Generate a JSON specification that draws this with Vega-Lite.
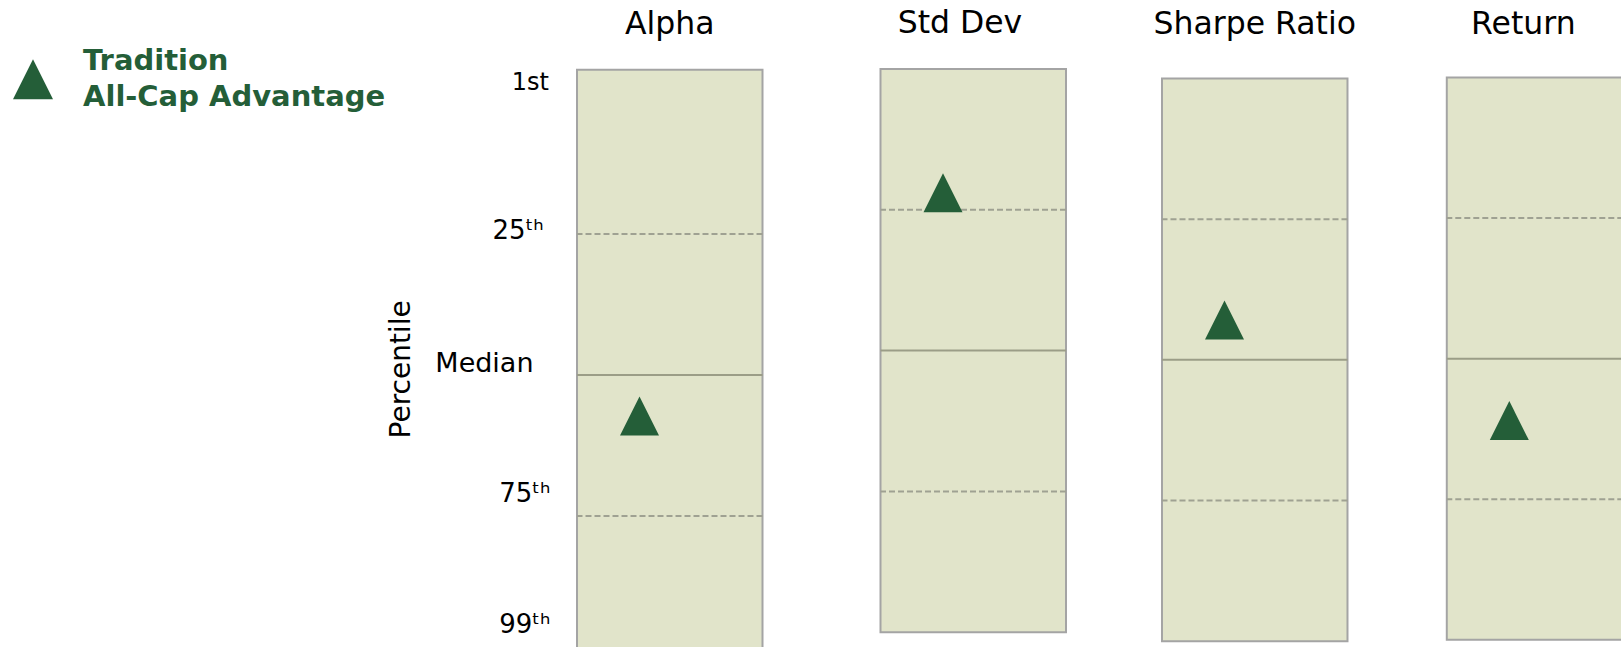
{
  "$schema": "https://vega.github.io/schema/vega-lite/v6.json",
  "background": "white",
  "padding": {"left": 13, "top": 7.9, "right": 0, "bottom": 0},
  "config": {
    "font": "DejaVu Sans",
    "view": {"stroke": null},
    "style": {"guide-label": {"lineHeight": 35.5}},
    "title": {"font": "DejaVu Sans", "fontSize": 31.5, "fontWeight": "normal", "color": "#000000", "anchor": "middle", "frame": "group", "baseline": "alphabetic", "offset": 28.3}
  },
  "datasets": {
    "boxes": [
      {"metric": "Alpha", "lo": -4.1, "hi": 100},
      {"metric": "Std Dev", "lo": 0, "hi": 100},
      {"metric": "Sharpe Ratio", "lo": 0, "hi": 100},
      {"metric": "Return", "lo": 0, "hi": 100}
    ],
    "lines": [
      {"metric": "Alpha", "pct": 25, "kind": "quartile"},
      {"metric": "Alpha", "pct": 50, "kind": "median"},
      {"metric": "Alpha", "pct": 75, "kind": "quartile"},
      {"metric": "Std Dev", "pct": 25, "kind": "quartile"},
      {"metric": "Std Dev", "pct": 50, "kind": "median"},
      {"metric": "Std Dev", "pct": 75, "kind": "quartile"},
      {"metric": "Sharpe Ratio", "pct": 25, "kind": "quartile"},
      {"metric": "Sharpe Ratio", "pct": 50, "kind": "median"},
      {"metric": "Sharpe Ratio", "pct": 75, "kind": "quartile"},
      {"metric": "Return", "pct": 25, "kind": "quartile"},
      {"metric": "Return", "pct": 50, "kind": "median"},
      {"metric": "Return", "pct": 75, "kind": "quartile"}
    ],
    "scores": [
      {"metric": "Alpha", "series": "Tradition All-Cap Advantage", "value": 57.3},
      {"metric": "Std Dev", "series": "Tradition All-Cap Advantage", "value": 22.0},
      {"metric": "Sharpe Ratio", "series": "Tradition All-Cap Advantage", "value": 42.9},
      {"metric": "Return", "series": "Tradition All-Cap Advantage", "value": 61.0}
    ]
  },
  "spacing": 117.5,
  "bounds": "flush",
  "hconcat": [
    {
      "title": {"text": "Alpha"},
      "width": 185.5,
      "height": 600,
      "layer": [
        {
          "data": {"name": "boxes"},
          "transform": [{"filter": "datum.metric == 'Alpha'"}],
          "mark": {"type": "rect", "fill": "#E1E4CA", "stroke": "#A4A4A4", "strokeWidth": 2},
          "encoding": {
            "y": {
              "field": "lo", "type": "quantitative",
              "scale": {"domain": [-4.26, 102.13], "reverse": true, "nice": false, "zero": false},
              "axis": {
                "values": [1, 25, 50, 75, 99],
                "labelExpr": "datum.value == 1 ? '1st' : datum.value == 50 ? 'Median' : datum.value + '\u1d57\u02b0'",
                "ticks": false, "domain": false, "grid": false,
                "labelOverlap": false, "labelFlush": false,
                "labelFont": "DejaVu Sans", "labelColor": "#000000",
                "labelBaseline": "middle", "labelAlign": "right",
                "labelFontSize": {"condition": [{"test": "datum.value == 1", "value": 24}, {"test": "datum.value == 50", "value": 27}], "value": 26},
                "labelOffset": {"condition": [{"test": "datum.value == 1", "value": -16.4}, {"test": "datum.value == 25", "value": -3.3}, {"test": "datum.value == 50", "value": -11.3}, {"test": "datum.value == 75", "value": -22.6}], "value": -26.4},
                "labelPadding": {"condition": [{"test": "datum.value == 50", "value": 44}, {"test": "datum.value == 25", "value": 33.7}, {"test": "datum.value == 1", "value": 28.7}], "value": 27},
                "title": "Percentile", "titleFont": "DejaVu Sans", "titleFontSize": 28, "titleFontWeight": "normal", "titleColor": "#000000", "titlePadding": 19
              }
            },
            "y2": {"field": "hi"}
          }
        },
        {
          "data": {"name": "lines"},
          "transform": [{"filter": "datum.metric == 'Alpha'"}],
          "mark": {"type": "rule"},
          "encoding": {
            "y": {"field": "pct", "type": "quantitative"},
            "color": {"condition": {"test": "datum.kind == 'median'", "value": "#9B9D87"}, "value": "#9FA192"},
            "strokeWidth": {"condition": {"test": "datum.kind == 'median'", "value": 2}, "value": 2},
            "strokeDash": {"condition": {"test": "datum.kind == 'median'", "value": [1, 0]}, "value": [6, 3]}
          }
        },
        {
          "data": {"name": "scores"},
          "transform": [{"filter": "datum.metric == 'Alpha'"}],
          "mark": {"type": "point", "filled": true, "fill": "#245E38", "size": 1521, "opacity": 1, "strokeWidth": 0},
          "encoding": {
            "x": {"field": "series", "type": "nominal", "scale": {"type": "point", "align": 0.337}, "axis": null},
            "y": {"field": "value", "type": "quantitative"},
            "shape": {
              "field": "series", "type": "nominal",
              "scale": {"range": ["M0,-1L1,1L-1,1Z"]},
              "legend": {
                "orient": "none", "legendX": -564, "legendY": -9.7, "title": null, "padding": 0,
                "symbolSize": 1600, "symbolFillColor": "#245E38", "symbolStrokeWidth": 0, "symbolOpacity": 1,
                "labelFont": "DejaVu Sans", "labelFontWeight": "bold", "labelFontSize": 29, "labelColor": "#245E38",
                "labelOffset": 30, "labelLimit": 600, "labelBaseline": "line-bottom",
                "labelExpr": "[slice(datum.label, 0, 9), slice(datum.label, 10)]"
              }
            }
          }
        }
      ]
    },
    {
      "spacing": 95.5,
      "bounds": "flush",
      "hconcat": [
        {
          "title": {"text": "Std Dev", "dx": -13.3},
          "width": 185.5,
          "height": 600,
          "layer": [
            {
              "data": {"name": "boxes"},
              "transform": [{"filter": "datum.metric == 'Std Dev'"}],
              "mark": {"type": "rect", "fill": "#E1E4CA", "stroke": "#A4A4A4", "strokeWidth": 2},
              "encoding": {
                "y": {"field": "lo", "type": "quantitative", "scale": {"domain": [0, 106.5], "reverse": true, "nice": false, "zero": false}, "axis": null},
                "y2": {"field": "hi"}
              }
            },
            {
              "data": {"name": "lines"},
              "transform": [{"filter": "datum.metric == 'Std Dev'"}],
              "mark": {"type": "rule"},
              "encoding": {
                "y": {"field": "pct", "type": "quantitative", "axis": null},
                "color": {"condition": {"test": "datum.kind == 'median'", "value": "#9B9D87"}, "value": "#9FA192"},
                "strokeWidth": {"condition": {"test": "datum.kind == 'median'", "value": 2}, "value": 2},
                "strokeDash": {"condition": {"test": "datum.kind == 'median'", "value": [1, 0]}, "value": [6, 3]}
              }
            },
            {
              "data": {"name": "scores"},
              "transform": [{"filter": "datum.metric == 'Std Dev'"}],
              "mark": {"type": "point", "filled": true, "fill": "#245E38", "size": 1521, "opacity": 1, "strokeWidth": 0, "shape": "M0,-1L1,1L-1,1Z"},
              "encoding": {
                "x": {"field": "series", "type": "nominal", "scale": {"type": "point", "align": 0.337}, "axis": null},
                "y": {"field": "value", "type": "quantitative", "axis": null}
              }
            }
          ]
        },
        {
          "spacing": 98.8,
          "bounds": "flush",
          "hconcat": [
            {
              "title": {"text": "Sharpe Ratio"},
              "width": 185.5,
              "height": 600,
              "layer": [
                {
                  "data": {"name": "boxes"},
                  "transform": [{"filter": "datum.metric == 'Sharpe Ratio'"}],
                  "mark": {"type": "rect", "fill": "#E1E4CA", "stroke": "#A4A4A4", "strokeWidth": 2},
                  "encoding": {
                    "y": {"field": "lo", "type": "quantitative", "scale": {"domain": [-1.72, 104.93], "reverse": true, "nice": false, "zero": false}, "axis": null},
                    "y2": {"field": "hi"}
                  }
                },
                {
                  "data": {"name": "lines"},
                  "transform": [{"filter": "datum.metric == 'Sharpe Ratio'"}],
                  "mark": {"type": "rule"},
                  "encoding": {
                    "y": {"field": "pct", "type": "quantitative", "axis": null},
                    "color": {"condition": {"test": "datum.kind == 'median'", "value": "#9B9D87"}, "value": "#9FA192"},
                    "strokeWidth": {"condition": {"test": "datum.kind == 'median'", "value": 2}, "value": 2},
                    "strokeDash": {"condition": {"test": "datum.kind == 'median'", "value": [1, 0]}, "value": [6, 3]}
                  }
                },
                {
                  "data": {"name": "scores"},
                  "transform": [{"filter": "datum.metric == 'Sharpe Ratio'"}],
                  "mark": {"type": "point", "filled": true, "fill": "#245E38", "size": 1521, "opacity": 1, "strokeWidth": 0, "shape": "M0,-1L1,1L-1,1Z"},
                  "encoding": {
                    "x": {"field": "series", "type": "nominal", "scale": {"type": "point", "align": 0.337}, "axis": null},
                    "y": {"field": "value", "type": "quantitative", "axis": null}
                  }
                }
              ]
            },
            {
              "title": {"text": "Return", "dx": -16.2},
              "width": 185.5,
              "height": 600,
              "layer": [
                {
                  "data": {"name": "boxes"},
                  "transform": [{"filter": "datum.metric == 'Return'"}],
                  "mark": {"type": "rect", "fill": "#E1E4CA", "stroke": "#A4A4A4", "strokeWidth": 2},
                  "encoding": {
                    "y": {"field": "lo", "type": "quantitative", "scale": {"domain": [-1.51, 105.16], "reverse": true, "nice": false, "zero": false}, "axis": null},
                    "y2": {"field": "hi"}
                  }
                },
                {
                  "data": {"name": "lines"},
                  "transform": [{"filter": "datum.metric == 'Return'"}],
                  "mark": {"type": "rule"},
                  "encoding": {
                    "y": {"field": "pct", "type": "quantitative", "axis": null},
                    "color": {"condition": {"test": "datum.kind == 'median'", "value": "#9B9D87"}, "value": "#9FA192"},
                    "strokeWidth": {"condition": {"test": "datum.kind == 'median'", "value": 2}, "value": 2},
                    "strokeDash": {"condition": {"test": "datum.kind == 'median'", "value": [1, 0]}, "value": [6, 3]}
                  }
                },
                {
                  "data": {"name": "scores"},
                  "transform": [{"filter": "datum.metric == 'Return'"}],
                  "mark": {"type": "point", "filled": true, "fill": "#245E38", "size": 1521, "opacity": 1, "strokeWidth": 0, "shape": "M0,-1L1,1L-1,1Z"},
                  "encoding": {
                    "x": {"field": "series", "type": "nominal", "scale": {"type": "point", "align": 0.337}, "axis": null},
                    "y": {"field": "value", "type": "quantitative", "axis": null}
                  }
                }
              ]
            }
          ]
        }
      ]
    }
  ]
}
